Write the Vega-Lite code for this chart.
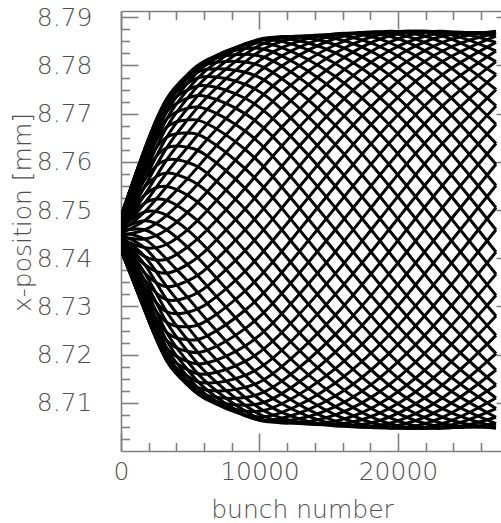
{
  "$schema": "https://vega.github.io/schema/vega-lite/v6.json",
  "width": 380,
  "height": 440,
  "autosize": "none",
  "padding": {"left": 121, "top": 11, "right": 0, "bottom": 72},
  "background": "white",
  "config": {
    "view": {"stroke": null},
    "axis": {
      "domainColor": "#808080", "domainWidth": 1.6,
      "tickColor": "#808080", "tickWidth": 1.6,
      "labelColor": "#505050", "titleColor": "#505050",
      "labelFont": "DejaVu Sans", "titleFont": "DejaVu Sans",
      "labelFontSize": 25, "titleFontSize": 25,
      "labelFontWeight": 200, "titleFontWeight": 200,
      "grid": false
    }
  },
  "datasets": {
    "frame": [{"bunch": 0, "pos": 8.75}],
    "curves": [
{"id":0,"bunch":0,"pos":8.7452},{"id":1,"bunch":0,"pos":8.7456},{"id":2,"bunch":0,"pos":8.746},{"id":3,"bunch":0,"pos":8.7464},{"id":4,"bunch":0,"pos":8.7467},{"id":5,"bunch":0,"pos":8.7471},{"id":6,"bunch":0,"pos":8.7474},{"id":7,"bunch":0,"pos":8.7477},{"id":8,"bunch":0,"pos":8.7479},{"id":9,"bunch":0,"pos":8.7482},{"id":10,"bunch":0,"pos":8.7484},{"id":11,"bunch":0,"pos":8.7485},{"id":12,"bunch":0,"pos":8.7486},{"id":13,"bunch":0,"pos":8.7487},{"id":14,"bunch":0,"pos":8.7487},{"id":15,"bunch":0,"pos":8.7487},{"id":16,"bunch":0,"pos":8.7486},{"id":17,"bunch":0,"pos":8.7485},{"id":18,"bunch":0,"pos":8.7484},{"id":19,"bunch":0,"pos":8.7482},{"id":20,"bunch":0,"pos":8.7479},{"id":21,"bunch":0,"pos":8.7477},{"id":22,"bunch":0,"pos":8.7474},{"id":23,"bunch":0,"pos":8.7471},{"id":24,"bunch":0,"pos":8.7467},{"id":25,"bunch":0,"pos":8.7464},{"id":26,"bunch":0,"pos":8.746},{"id":27,"bunch":0,"pos":8.7456},{"id":28,"bunch":0,"pos":8.7452},{"id":29,"bunch":0,"pos":8.7448},{"id":30,"bunch":0,"pos":8.7444},{"id":31,"bunch":0,"pos":8.744},{"id":32,"bunch":0,"pos":8.7437},{"id":33,"bunch":0,"pos":8.7433},{"id":34,"bunch":0,"pos":8.743},{"id":35,"bunch":0,"pos":8.7427},{"id":36,"bunch":0,"pos":8.7425},{"id":37,"bunch":0,"pos":8.7422},{"id":38,"bunch":0,"pos":8.742},{"id":39,"bunch":0,"pos":8.7419},{"id":40,"bunch":0,"pos":8.7418},{"id":41,"bunch":0,"pos":8.7417},{"id":42,"bunch":0,"pos":8.7417},{"id":43,"bunch":0,"pos":8.7417},{"id":44,"bunch":0,"pos":8.7418},{"id":45,"bunch":0,"pos":8.7419},{"id":46,"bunch":0,"pos":8.742},{"id":47,"bunch":0,"pos":8.7422},{"id":48,"bunch":0,"pos":8.7425},{"id":49,"bunch":0,"pos":8.7427},{"id":50,"bunch":0,"pos":8.743},{"id":51,"bunch":0,"pos":8.7433},{"id":52,"bunch":0,"pos":8.7437},{"id":53,"bunch":0,"pos":8.744},{"id":54,"bunch":0,"pos":8.7444},{"id":55,"bunch":0,"pos":8.7448},
{"id":0,"bunch":1700,"pos":8.7478},{"id":1,"bunch":1700,"pos":8.7496},{"id":2,"bunch":1700,"pos":8.7514},{"id":3,"bunch":1700,"pos":8.7531},{"id":4,"bunch":1700,"pos":8.7548},{"id":5,"bunch":1700,"pos":8.7563},{"id":6,"bunch":1700,"pos":8.7577},{"id":7,"bunch":1700,"pos":8.759},{"id":8,"bunch":1700,"pos":8.76},{"id":9,"bunch":1700,"pos":8.7609},{"id":10,"bunch":1700,"pos":8.7617},{"id":11,"bunch":1700,"pos":8.7622},{"id":12,"bunch":1700,"pos":8.7625},{"id":13,"bunch":1700,"pos":8.7626},{"id":14,"bunch":1700,"pos":8.7625},{"id":15,"bunch":1700,"pos":8.7622},{"id":16,"bunch":1700,"pos":8.7617},{"id":17,"bunch":1700,"pos":8.7609},{"id":18,"bunch":1700,"pos":8.76},{"id":19,"bunch":1700,"pos":8.759},{"id":20,"bunch":1700,"pos":8.7577},{"id":21,"bunch":1700,"pos":8.7563},{"id":22,"bunch":1700,"pos":8.7548},{"id":23,"bunch":1700,"pos":8.7531},{"id":24,"bunch":1700,"pos":8.7514},{"id":25,"bunch":1700,"pos":8.7496},{"id":26,"bunch":1700,"pos":8.7478},{"id":27,"bunch":1700,"pos":8.7459},{"id":28,"bunch":1700,"pos":8.744},{"id":29,"bunch":1700,"pos":8.7422},{"id":30,"bunch":1700,"pos":8.7404},{"id":31,"bunch":1700,"pos":8.7387},{"id":32,"bunch":1700,"pos":8.737},{"id":33,"bunch":1700,"pos":8.7355},{"id":34,"bunch":1700,"pos":8.7341},{"id":35,"bunch":1700,"pos":8.7328},{"id":36,"bunch":1700,"pos":8.7318},{"id":37,"bunch":1700,"pos":8.7309},{"id":38,"bunch":1700,"pos":8.7301},{"id":39,"bunch":1700,"pos":8.7296},{"id":40,"bunch":1700,"pos":8.7293},{"id":41,"bunch":1700,"pos":8.7292},{"id":42,"bunch":1700,"pos":8.7293},{"id":43,"bunch":1700,"pos":8.7296},{"id":44,"bunch":1700,"pos":8.7301},{"id":45,"bunch":1700,"pos":8.7309},{"id":46,"bunch":1700,"pos":8.7318},{"id":47,"bunch":1700,"pos":8.7328},{"id":48,"bunch":1700,"pos":8.7341},{"id":49,"bunch":1700,"pos":8.7355},{"id":50,"bunch":1700,"pos":8.737},{"id":51,"bunch":1700,"pos":8.7387},{"id":52,"bunch":1700,"pos":8.7404},{"id":53,"bunch":1700,"pos":8.7422},{"id":54,"bunch":1700,"pos":8.744},{"id":55,"bunch":1700,"pos":8.7459},
{"id":0,"bunch":3300,"pos":8.752},{"id":1,"bunch":3300,"pos":8.7549},{"id":2,"bunch":3300,"pos":8.7577},{"id":3,"bunch":3300,"pos":8.7604},{"id":4,"bunch":3300,"pos":8.7629},{"id":5,"bunch":3300,"pos":8.7651},{"id":6,"bunch":3300,"pos":8.7672},{"id":7,"bunch":3300,"pos":8.7689},{"id":8,"bunch":3300,"pos":8.7704},{"id":9,"bunch":3300,"pos":8.7716},{"id":10,"bunch":3300,"pos":8.7724},{"id":11,"bunch":3300,"pos":8.7729},{"id":12,"bunch":3300,"pos":8.7731},{"id":13,"bunch":3300,"pos":8.7729},{"id":14,"bunch":3300,"pos":8.7724},{"id":15,"bunch":3300,"pos":8.7716},{"id":16,"bunch":3300,"pos":8.7704},{"id":17,"bunch":3300,"pos":8.7689},{"id":18,"bunch":3300,"pos":8.7672},{"id":19,"bunch":3300,"pos":8.7651},{"id":20,"bunch":3300,"pos":8.7629},{"id":21,"bunch":3300,"pos":8.7604},{"id":22,"bunch":3300,"pos":8.7577},{"id":23,"bunch":3300,"pos":8.7549},{"id":24,"bunch":3300,"pos":8.752},{"id":25,"bunch":3300,"pos":8.7489},{"id":26,"bunch":3300,"pos":8.7459},{"id":27,"bunch":3300,"pos":8.7429},{"id":28,"bunch":3300,"pos":8.7398},{"id":29,"bunch":3300,"pos":8.7369},{"id":30,"bunch":3300,"pos":8.7341},{"id":31,"bunch":3300,"pos":8.7314},{"id":32,"bunch":3300,"pos":8.7289},{"id":33,"bunch":3300,"pos":8.7267},{"id":34,"bunch":3300,"pos":8.7246},{"id":35,"bunch":3300,"pos":8.7229},{"id":36,"bunch":3300,"pos":8.7214},{"id":37,"bunch":3300,"pos":8.7202},{"id":38,"bunch":3300,"pos":8.7194},{"id":39,"bunch":3300,"pos":8.7189},{"id":40,"bunch":3300,"pos":8.7187},{"id":41,"bunch":3300,"pos":8.7189},{"id":42,"bunch":3300,"pos":8.7194},{"id":43,"bunch":3300,"pos":8.7202},{"id":44,"bunch":3300,"pos":8.7214},{"id":45,"bunch":3300,"pos":8.7229},{"id":46,"bunch":3300,"pos":8.7246},{"id":47,"bunch":3300,"pos":8.7267},{"id":48,"bunch":3300,"pos":8.7289},{"id":49,"bunch":3300,"pos":8.7314},{"id":50,"bunch":3300,"pos":8.7341},{"id":51,"bunch":3300,"pos":8.7369},{"id":52,"bunch":3300,"pos":8.7398},{"id":53,"bunch":3300,"pos":8.7429},{"id":54,"bunch":3300,"pos":8.7459},{"id":55,"bunch":3300,"pos":8.7489},
{"id":0,"bunch":4800,"pos":8.7565},{"id":1,"bunch":4800,"pos":8.7599},{"id":2,"bunch":4800,"pos":8.763},{"id":3,"bunch":4800,"pos":8.766},{"id":4,"bunch":4800,"pos":8.7687},{"id":5,"bunch":4800,"pos":8.7711},{"id":6,"bunch":4800,"pos":8.7732},{"id":7,"bunch":4800,"pos":8.7749},{"id":8,"bunch":4800,"pos":8.7763},{"id":9,"bunch":4800,"pos":8.7773},{"id":10,"bunch":4800,"pos":8.7779},{"id":11,"bunch":4800,"pos":8.7781},{"id":12,"bunch":4800,"pos":8.7779},{"id":13,"bunch":4800,"pos":8.7773},{"id":14,"bunch":4800,"pos":8.7763},{"id":15,"bunch":4800,"pos":8.7749},{"id":16,"bunch":4800,"pos":8.7732},{"id":17,"bunch":4800,"pos":8.7711},{"id":18,"bunch":4800,"pos":8.7687},{"id":19,"bunch":4800,"pos":8.766},{"id":20,"bunch":4800,"pos":8.763},{"id":21,"bunch":4800,"pos":8.7599},{"id":22,"bunch":4800,"pos":8.7565},{"id":23,"bunch":4800,"pos":8.7531},{"id":24,"bunch":4800,"pos":8.7495},{"id":25,"bunch":4800,"pos":8.7459},{"id":26,"bunch":4800,"pos":8.7423},{"id":27,"bunch":4800,"pos":8.7387},{"id":28,"bunch":4800,"pos":8.7353},{"id":29,"bunch":4800,"pos":8.7319},{"id":30,"bunch":4800,"pos":8.7288},{"id":31,"bunch":4800,"pos":8.7258},{"id":32,"bunch":4800,"pos":8.7231},{"id":33,"bunch":4800,"pos":8.7207},{"id":34,"bunch":4800,"pos":8.7186},{"id":35,"bunch":4800,"pos":8.7169},{"id":36,"bunch":4800,"pos":8.7155},{"id":37,"bunch":4800,"pos":8.7145},{"id":38,"bunch":4800,"pos":8.7139},{"id":39,"bunch":4800,"pos":8.7137},{"id":40,"bunch":4800,"pos":8.7139},{"id":41,"bunch":4800,"pos":8.7145},{"id":42,"bunch":4800,"pos":8.7155},{"id":43,"bunch":4800,"pos":8.7169},{"id":44,"bunch":4800,"pos":8.7186},{"id":45,"bunch":4800,"pos":8.7207},{"id":46,"bunch":4800,"pos":8.7231},{"id":47,"bunch":4800,"pos":8.7258},{"id":48,"bunch":4800,"pos":8.7288},{"id":49,"bunch":4800,"pos":8.7319},{"id":50,"bunch":4800,"pos":8.7353},{"id":51,"bunch":4800,"pos":8.7387},{"id":52,"bunch":4800,"pos":8.7423},{"id":53,"bunch":4800,"pos":8.7459},{"id":54,"bunch":4800,"pos":8.7495},{"id":55,"bunch":4800,"pos":8.7531},
{"id":0,"bunch":6230,"pos":8.7612},{"id":1,"bunch":6230,"pos":8.7647},{"id":2,"bunch":6230,"pos":8.7679},{"id":3,"bunch":6230,"pos":8.7709},{"id":4,"bunch":6230,"pos":8.7735},{"id":5,"bunch":6230,"pos":8.7758},{"id":6,"bunch":6230,"pos":8.7777},{"id":7,"bunch":6230,"pos":8.7792},{"id":8,"bunch":6230,"pos":8.7803},{"id":9,"bunch":6230,"pos":8.781},{"id":10,"bunch":6230,"pos":8.7812},{"id":11,"bunch":6230,"pos":8.781},{"id":12,"bunch":6230,"pos":8.7803},{"id":13,"bunch":6230,"pos":8.7792},{"id":14,"bunch":6230,"pos":8.7777},{"id":15,"bunch":6230,"pos":8.7758},{"id":16,"bunch":6230,"pos":8.7735},{"id":17,"bunch":6230,"pos":8.7709},{"id":18,"bunch":6230,"pos":8.7679},{"id":19,"bunch":6230,"pos":8.7647},{"id":20,"bunch":6230,"pos":8.7612},{"id":21,"bunch":6230,"pos":8.7576},{"id":22,"bunch":6230,"pos":8.7538},{"id":23,"bunch":6230,"pos":8.7499},{"id":24,"bunch":6230,"pos":8.7459},{"id":25,"bunch":6230,"pos":8.7419},{"id":26,"bunch":6230,"pos":8.738},{"id":27,"bunch":6230,"pos":8.7342},{"id":28,"bunch":6230,"pos":8.7306},{"id":29,"bunch":6230,"pos":8.7271},{"id":30,"bunch":6230,"pos":8.7239},{"id":31,"bunch":6230,"pos":8.7209},{"id":32,"bunch":6230,"pos":8.7183},{"id":33,"bunch":6230,"pos":8.716},{"id":34,"bunch":6230,"pos":8.7141},{"id":35,"bunch":6230,"pos":8.7126},{"id":36,"bunch":6230,"pos":8.7115},{"id":37,"bunch":6230,"pos":8.7108},{"id":38,"bunch":6230,"pos":8.7106},{"id":39,"bunch":6230,"pos":8.7108},{"id":40,"bunch":6230,"pos":8.7115},{"id":41,"bunch":6230,"pos":8.7126},{"id":42,"bunch":6230,"pos":8.7141},{"id":43,"bunch":6230,"pos":8.716},{"id":44,"bunch":6230,"pos":8.7183},{"id":45,"bunch":6230,"pos":8.7209},{"id":46,"bunch":6230,"pos":8.7239},{"id":47,"bunch":6230,"pos":8.7271},{"id":48,"bunch":6230,"pos":8.7306},{"id":49,"bunch":6230,"pos":8.7342},{"id":50,"bunch":6230,"pos":8.738},{"id":51,"bunch":6230,"pos":8.7419},{"id":52,"bunch":6230,"pos":8.7459},{"id":53,"bunch":6230,"pos":8.7499},{"id":54,"bunch":6230,"pos":8.7538},{"id":55,"bunch":6230,"pos":8.7576},
{"id":0,"bunch":8960,"pos":8.77},{"id":1,"bunch":8960,"pos":8.7732},{"id":2,"bunch":8960,"pos":8.7761},{"id":3,"bunch":8960,"pos":8.7786},{"id":4,"bunch":8960,"pos":8.7807},{"id":5,"bunch":8960,"pos":8.7823},{"id":6,"bunch":8960,"pos":8.7835},{"id":7,"bunch":8960,"pos":8.7843},{"id":8,"bunch":8960,"pos":8.7845},{"id":9,"bunch":8960,"pos":8.7843},{"id":10,"bunch":8960,"pos":8.7835},{"id":11,"bunch":8960,"pos":8.7823},{"id":12,"bunch":8960,"pos":8.7807},{"id":13,"bunch":8960,"pos":8.7786},{"id":14,"bunch":8960,"pos":8.7761},{"id":15,"bunch":8960,"pos":8.7732},{"id":16,"bunch":8960,"pos":8.77},{"id":17,"bunch":8960,"pos":8.7664},{"id":18,"bunch":8960,"pos":8.7626},{"id":19,"bunch":8960,"pos":8.7586},{"id":20,"bunch":8960,"pos":8.7545},{"id":21,"bunch":8960,"pos":8.7502},{"id":22,"bunch":8960,"pos":8.7459},{"id":23,"bunch":8960,"pos":8.7416},{"id":24,"bunch":8960,"pos":8.7373},{"id":25,"bunch":8960,"pos":8.7332},{"id":26,"bunch":8960,"pos":8.7292},{"id":27,"bunch":8960,"pos":8.7254},{"id":28,"bunch":8960,"pos":8.7218},{"id":29,"bunch":8960,"pos":8.7186},{"id":30,"bunch":8960,"pos":8.7157},{"id":31,"bunch":8960,"pos":8.7132},{"id":32,"bunch":8960,"pos":8.7111},{"id":33,"bunch":8960,"pos":8.7095},{"id":34,"bunch":8960,"pos":8.7083},{"id":35,"bunch":8960,"pos":8.7075},{"id":36,"bunch":8960,"pos":8.7073},{"id":37,"bunch":8960,"pos":8.7075},{"id":38,"bunch":8960,"pos":8.7083},{"id":39,"bunch":8960,"pos":8.7095},{"id":40,"bunch":8960,"pos":8.7111},{"id":41,"bunch":8960,"pos":8.7132},{"id":42,"bunch":8960,"pos":8.7157},{"id":43,"bunch":8960,"pos":8.7186},{"id":44,"bunch":8960,"pos":8.7218},{"id":45,"bunch":8960,"pos":8.7254},{"id":46,"bunch":8960,"pos":8.7292},{"id":47,"bunch":8960,"pos":8.7332},{"id":48,"bunch":8960,"pos":8.7373},{"id":49,"bunch":8960,"pos":8.7416},{"id":50,"bunch":8960,"pos":8.7459},{"id":51,"bunch":8960,"pos":8.7502},{"id":52,"bunch":8960,"pos":8.7545},{"id":53,"bunch":8960,"pos":8.7586},{"id":54,"bunch":8960,"pos":8.7626},{"id":55,"bunch":8960,"pos":8.7664},
{"id":0,"bunch":11610,"pos":8.7773},{"id":1,"bunch":11610,"pos":8.7799},{"id":2,"bunch":11610,"pos":8.782},{"id":3,"bunch":11610,"pos":8.7837},{"id":4,"bunch":11610,"pos":8.785},{"id":5,"bunch":11610,"pos":8.7857},{"id":6,"bunch":11610,"pos":8.786},{"id":7,"bunch":11610,"pos":8.7857},{"id":8,"bunch":11610,"pos":8.785},{"id":9,"bunch":11610,"pos":8.7837},{"id":10,"bunch":11610,"pos":8.782},{"id":11,"bunch":11610,"pos":8.7799},{"id":12,"bunch":11610,"pos":8.7773},{"id":13,"bunch":11610,"pos":8.7743},{"id":14,"bunch":11610,"pos":8.7709},{"id":15,"bunch":11610,"pos":8.7672},{"id":16,"bunch":11610,"pos":8.7633},{"id":17,"bunch":11610,"pos":8.7591},{"id":18,"bunch":11610,"pos":8.7548},{"id":19,"bunch":11610,"pos":8.7504},{"id":20,"bunch":11610,"pos":8.7459},{"id":21,"bunch":11610,"pos":8.7414},{"id":22,"bunch":11610,"pos":8.737},{"id":23,"bunch":11610,"pos":8.7327},{"id":24,"bunch":11610,"pos":8.7285},{"id":25,"bunch":11610,"pos":8.7246},{"id":26,"bunch":11610,"pos":8.7209},{"id":27,"bunch":11610,"pos":8.7175},{"id":28,"bunch":11610,"pos":8.7145},{"id":29,"bunch":11610,"pos":8.7119},{"id":30,"bunch":11610,"pos":8.7098},{"id":31,"bunch":11610,"pos":8.708},{"id":32,"bunch":11610,"pos":8.7068},{"id":33,"bunch":11610,"pos":8.7061},{"id":34,"bunch":11610,"pos":8.7058},{"id":35,"bunch":11610,"pos":8.7061},{"id":36,"bunch":11610,"pos":8.7068},{"id":37,"bunch":11610,"pos":8.708},{"id":38,"bunch":11610,"pos":8.7098},{"id":39,"bunch":11610,"pos":8.7119},{"id":40,"bunch":11610,"pos":8.7145},{"id":41,"bunch":11610,"pos":8.7175},{"id":42,"bunch":11610,"pos":8.7209},{"id":43,"bunch":11610,"pos":8.7246},{"id":44,"bunch":11610,"pos":8.7285},{"id":45,"bunch":11610,"pos":8.7327},{"id":46,"bunch":11610,"pos":8.737},{"id":47,"bunch":11610,"pos":8.7414},{"id":48,"bunch":11610,"pos":8.7459},{"id":49,"bunch":11610,"pos":8.7504},{"id":50,"bunch":11610,"pos":8.7548},{"id":51,"bunch":11610,"pos":8.7591},{"id":52,"bunch":11610,"pos":8.7633},{"id":53,"bunch":11610,"pos":8.7672},{"id":54,"bunch":11610,"pos":8.7709},{"id":55,"bunch":11610,"pos":8.7743},
{"id":0,"bunch":15477,"pos":8.7843},{"id":1,"bunch":15477,"pos":8.7856},{"id":2,"bunch":15477,"pos":8.7863},{"id":3,"bunch":15477,"pos":8.7866},{"id":4,"bunch":15477,"pos":8.7863},{"id":5,"bunch":15477,"pos":8.7856},{"id":6,"bunch":15477,"pos":8.7843},{"id":7,"bunch":15477,"pos":8.7826},{"id":8,"bunch":15477,"pos":8.7804},{"id":9,"bunch":15477,"pos":8.7777},{"id":10,"bunch":15477,"pos":8.7747},{"id":11,"bunch":15477,"pos":8.7713},{"id":12,"bunch":15477,"pos":8.7676},{"id":13,"bunch":15477,"pos":8.7636},{"id":14,"bunch":15477,"pos":8.7593},{"id":15,"bunch":15477,"pos":8.755},{"id":16,"bunch":15477,"pos":8.7505},{"id":17,"bunch":15477,"pos":8.7459},{"id":18,"bunch":15477,"pos":8.7413},{"id":19,"bunch":15477,"pos":8.7368},{"id":20,"bunch":15477,"pos":8.7325},{"id":21,"bunch":15477,"pos":8.7282},{"id":22,"bunch":15477,"pos":8.7242},{"id":23,"bunch":15477,"pos":8.7205},{"id":24,"bunch":15477,"pos":8.7171},{"id":25,"bunch":15477,"pos":8.7141},{"id":26,"bunch":15477,"pos":8.7114},{"id":27,"bunch":15477,"pos":8.7092},{"id":28,"bunch":15477,"pos":8.7075},{"id":29,"bunch":15477,"pos":8.7062},{"id":30,"bunch":15477,"pos":8.7055},{"id":31,"bunch":15477,"pos":8.7052},{"id":32,"bunch":15477,"pos":8.7055},{"id":33,"bunch":15477,"pos":8.7062},{"id":34,"bunch":15477,"pos":8.7075},{"id":35,"bunch":15477,"pos":8.7092},{"id":36,"bunch":15477,"pos":8.7114},{"id":37,"bunch":15477,"pos":8.7141},{"id":38,"bunch":15477,"pos":8.7171},{"id":39,"bunch":15477,"pos":8.7205},{"id":40,"bunch":15477,"pos":8.7242},{"id":41,"bunch":15477,"pos":8.7282},{"id":42,"bunch":15477,"pos":8.7325},{"id":43,"bunch":15477,"pos":8.7368},{"id":44,"bunch":15477,"pos":8.7413},{"id":45,"bunch":15477,"pos":8.7459},{"id":46,"bunch":15477,"pos":8.7505},{"id":47,"bunch":15477,"pos":8.755},{"id":48,"bunch":15477,"pos":8.7593},{"id":49,"bunch":15477,"pos":8.7636},{"id":50,"bunch":15477,"pos":8.7676},{"id":51,"bunch":15477,"pos":8.7713},{"id":52,"bunch":15477,"pos":8.7747},{"id":53,"bunch":15477,"pos":8.7777},{"id":54,"bunch":15477,"pos":8.7804},{"id":55,"bunch":15477,"pos":8.7826},
{"id":0,"bunch":19344,"pos":8.7871},{"id":1,"bunch":19344,"pos":8.7868},{"id":2,"bunch":19344,"pos":8.7861},{"id":3,"bunch":19344,"pos":8.7848},{"id":4,"bunch":19344,"pos":8.783},{"id":5,"bunch":19344,"pos":8.7808},{"id":6,"bunch":19344,"pos":8.7781},{"id":7,"bunch":19344,"pos":8.775},{"id":8,"bunch":19344,"pos":8.7716},{"id":9,"bunch":19344,"pos":8.7678},{"id":10,"bunch":19344,"pos":8.7638},{"id":11,"bunch":19344,"pos":8.7595},{"id":12,"bunch":19344,"pos":8.7551},{"id":13,"bunch":19344,"pos":8.7505},{"id":14,"bunch":19344,"pos":8.7459},{"id":15,"bunch":19344,"pos":8.7413},{"id":16,"bunch":19344,"pos":8.7367},{"id":17,"bunch":19344,"pos":8.7323},{"id":18,"bunch":19344,"pos":8.728},{"id":19,"bunch":19344,"pos":8.724},{"id":20,"bunch":19344,"pos":8.7202},{"id":21,"bunch":19344,"pos":8.7168},{"id":22,"bunch":19344,"pos":8.7137},{"id":23,"bunch":19344,"pos":8.711},{"id":24,"bunch":19344,"pos":8.7088},{"id":25,"bunch":19344,"pos":8.707},{"id":26,"bunch":19344,"pos":8.7057},{"id":27,"bunch":19344,"pos":8.705},{"id":28,"bunch":19344,"pos":8.7047},{"id":29,"bunch":19344,"pos":8.705},{"id":30,"bunch":19344,"pos":8.7057},{"id":31,"bunch":19344,"pos":8.707},{"id":32,"bunch":19344,"pos":8.7088},{"id":33,"bunch":19344,"pos":8.711},{"id":34,"bunch":19344,"pos":8.7137},{"id":35,"bunch":19344,"pos":8.7168},{"id":36,"bunch":19344,"pos":8.7202},{"id":37,"bunch":19344,"pos":8.724},{"id":38,"bunch":19344,"pos":8.728},{"id":39,"bunch":19344,"pos":8.7323},{"id":40,"bunch":19344,"pos":8.7367},{"id":41,"bunch":19344,"pos":8.7413},{"id":42,"bunch":19344,"pos":8.7459},{"id":43,"bunch":19344,"pos":8.7505},{"id":44,"bunch":19344,"pos":8.7551},{"id":45,"bunch":19344,"pos":8.7595},{"id":46,"bunch":19344,"pos":8.7638},{"id":47,"bunch":19344,"pos":8.7678},{"id":48,"bunch":19344,"pos":8.7716},{"id":49,"bunch":19344,"pos":8.775},{"id":50,"bunch":19344,"pos":8.7781},{"id":51,"bunch":19344,"pos":8.7808},{"id":52,"bunch":19344,"pos":8.783},{"id":53,"bunch":19344,"pos":8.7848},{"id":54,"bunch":19344,"pos":8.7861},{"id":55,"bunch":19344,"pos":8.7868},
{"id":0,"bunch":23211,"pos":8.7848},{"id":1,"bunch":23211,"pos":8.783},{"id":2,"bunch":23211,"pos":8.7808},{"id":3,"bunch":23211,"pos":8.7781},{"id":4,"bunch":23211,"pos":8.775},{"id":5,"bunch":23211,"pos":8.7716},{"id":6,"bunch":23211,"pos":8.7678},{"id":7,"bunch":23211,"pos":8.7638},{"id":8,"bunch":23211,"pos":8.7595},{"id":9,"bunch":23211,"pos":8.7551},{"id":10,"bunch":23211,"pos":8.7505},{"id":11,"bunch":23211,"pos":8.7459},{"id":12,"bunch":23211,"pos":8.7413},{"id":13,"bunch":23211,"pos":8.7367},{"id":14,"bunch":23211,"pos":8.7323},{"id":15,"bunch":23211,"pos":8.728},{"id":16,"bunch":23211,"pos":8.724},{"id":17,"bunch":23211,"pos":8.7202},{"id":18,"bunch":23211,"pos":8.7168},{"id":19,"bunch":23211,"pos":8.7137},{"id":20,"bunch":23211,"pos":8.711},{"id":21,"bunch":23211,"pos":8.7088},{"id":22,"bunch":23211,"pos":8.707},{"id":23,"bunch":23211,"pos":8.7057},{"id":24,"bunch":23211,"pos":8.705},{"id":25,"bunch":23211,"pos":8.7047},{"id":26,"bunch":23211,"pos":8.705},{"id":27,"bunch":23211,"pos":8.7057},{"id":28,"bunch":23211,"pos":8.707},{"id":29,"bunch":23211,"pos":8.7088},{"id":30,"bunch":23211,"pos":8.711},{"id":31,"bunch":23211,"pos":8.7137},{"id":32,"bunch":23211,"pos":8.7168},{"id":33,"bunch":23211,"pos":8.7202},{"id":34,"bunch":23211,"pos":8.724},{"id":35,"bunch":23211,"pos":8.728},{"id":36,"bunch":23211,"pos":8.7323},{"id":37,"bunch":23211,"pos":8.7367},{"id":38,"bunch":23211,"pos":8.7413},{"id":39,"bunch":23211,"pos":8.7459},{"id":40,"bunch":23211,"pos":8.7505},{"id":41,"bunch":23211,"pos":8.7551},{"id":42,"bunch":23211,"pos":8.7595},{"id":43,"bunch":23211,"pos":8.7638},{"id":44,"bunch":23211,"pos":8.7678},{"id":45,"bunch":23211,"pos":8.7716},{"id":46,"bunch":23211,"pos":8.775},{"id":47,"bunch":23211,"pos":8.7781},{"id":48,"bunch":23211,"pos":8.7808},{"id":49,"bunch":23211,"pos":8.783},{"id":50,"bunch":23211,"pos":8.7848},{"id":51,"bunch":23211,"pos":8.7861},{"id":52,"bunch":23211,"pos":8.7868},{"id":53,"bunch":23211,"pos":8.7871},{"id":54,"bunch":23211,"pos":8.7868},{"id":55,"bunch":23211,"pos":8.7861},
{"id":0,"bunch":27078,"pos":8.7781},{"id":1,"bunch":27078,"pos":8.775},{"id":2,"bunch":27078,"pos":8.7716},{"id":3,"bunch":27078,"pos":8.7678},{"id":4,"bunch":27078,"pos":8.7638},{"id":5,"bunch":27078,"pos":8.7595},{"id":6,"bunch":27078,"pos":8.7551},{"id":7,"bunch":27078,"pos":8.7505},{"id":8,"bunch":27078,"pos":8.7459},{"id":9,"bunch":27078,"pos":8.7413},{"id":10,"bunch":27078,"pos":8.7367},{"id":11,"bunch":27078,"pos":8.7323},{"id":12,"bunch":27078,"pos":8.728},{"id":13,"bunch":27078,"pos":8.724},{"id":14,"bunch":27078,"pos":8.7202},{"id":15,"bunch":27078,"pos":8.7168},{"id":16,"bunch":27078,"pos":8.7137},{"id":17,"bunch":27078,"pos":8.711},{"id":18,"bunch":27078,"pos":8.7088},{"id":19,"bunch":27078,"pos":8.707},{"id":20,"bunch":27078,"pos":8.7057},{"id":21,"bunch":27078,"pos":8.705},{"id":22,"bunch":27078,"pos":8.7047},{"id":23,"bunch":27078,"pos":8.705},{"id":24,"bunch":27078,"pos":8.7057},{"id":25,"bunch":27078,"pos":8.707},{"id":26,"bunch":27078,"pos":8.7088},{"id":27,"bunch":27078,"pos":8.711},{"id":28,"bunch":27078,"pos":8.7137},{"id":29,"bunch":27078,"pos":8.7168},{"id":30,"bunch":27078,"pos":8.7202},{"id":31,"bunch":27078,"pos":8.724},{"id":32,"bunch":27078,"pos":8.728},{"id":33,"bunch":27078,"pos":8.7323},{"id":34,"bunch":27078,"pos":8.7367},{"id":35,"bunch":27078,"pos":8.7413},{"id":36,"bunch":27078,"pos":8.7459},{"id":37,"bunch":27078,"pos":8.7505},{"id":38,"bunch":27078,"pos":8.7551},{"id":39,"bunch":27078,"pos":8.7595},{"id":40,"bunch":27078,"pos":8.7638},{"id":41,"bunch":27078,"pos":8.7678},{"id":42,"bunch":27078,"pos":8.7716},{"id":43,"bunch":27078,"pos":8.775},{"id":44,"bunch":27078,"pos":8.7781},{"id":45,"bunch":27078,"pos":8.7808},{"id":46,"bunch":27078,"pos":8.783},{"id":47,"bunch":27078,"pos":8.7848},{"id":48,"bunch":27078,"pos":8.7861},{"id":49,"bunch":27078,"pos":8.7868},{"id":50,"bunch":27078,"pos":8.7871},{"id":51,"bunch":27078,"pos":8.7868},{"id":52,"bunch":27078,"pos":8.7861},{"id":53,"bunch":27078,"pos":8.7848},{"id":54,"bunch":27078,"pos":8.783},{"id":55,"bunch":27078,"pos":8.7808}
    ]
  },
  "layer": [
    {
      "data": {"name": "curves"},
      "mark": {"type": "line", "color": "black", "strokeWidth": 3, "interpolate": "natural", "clip": true},
      "encoding": {
        "x": {
          "field": "bunch", "type": "quantitative",
          "scale": {"domain": [0, 27440], "nice": false, "zero": false},
          "axis": {
            "orient": "bottom",
            "values": [0, 2000, 4000, 6000, 8000, 10000, 12000, 14000, 16000, 18000, 20000, 22000, 24000, 26000],
            "format": "d",
            "labelExpr": "datum.value % 10000 === 0 ? datum.label : ''",
            "tickSize": {"condition": {"test": "datum.value % 10000 === 0", "value": -18}, "value": -8.5},
            "labelPadding": 26,
            "labelFlush": false,
            "title": "bunch number",
            "titleX": 181, "titleY": 66,
            "titleAlign": "center", "titleBaseline": "alphabetic"
          }
        },
        "y": {
          "field": "pos", "type": "quantitative",
          "scale": {"domain": [8.7, 8.7913], "nice": false, "zero": false},
          "axis": {
            "orient": "left",
            "values": [8.7025, 8.705, 8.7075, 8.71, 8.7125, 8.715, 8.7175, 8.72, 8.7225, 8.725, 8.7275, 8.73, 8.7325, 8.735, 8.7375, 8.74, 8.7425, 8.745, 8.7475, 8.75, 8.7525, 8.755, 8.7575, 8.76, 8.7625, 8.765, 8.7675, 8.77, 8.7725, 8.775, 8.7775, 8.78, 8.7825, 8.785, 8.7875, 8.79],
            "labelExpr": "abs(datum.value * 100 - round(datum.value * 100)) < 0.01 ? format(datum.value, '.2f') : ''",
            "tickSize": {"condition": {"test": "abs(datum.value * 100 - round(datum.value * 100)) < 0.01", "value": -17}, "value": -8.5},
            "labelPadding": 46,
            "labelFlush": false,
            "title": "x-position [mm]",
            "titleX": -91, "titleY": 201,
            "titleAngle": 270,
            "titleAlign": "center", "titleBaseline": "alphabetic"
          }
        },
        "detail": {"field": "id", "type": "nominal"}
      }
    },
    {
      "data": {"name": "frame"},
      "mark": {"type": "point", "opacity": 0},
      "encoding": {
        "x": {
          "field": "bunch", "type": "quantitative",
          "scale": {"domain": [0, 27440], "nice": false, "zero": false},
          "axis": {
            "orient": "top",
            "values": [0, 2000, 4000, 6000, 8000, 10000, 12000, 14000, 16000, 18000, 20000, 22000, 24000, 26000],
            "labels": false,
            "tickSize": {"condition": {"test": "datum.value % 10000 === 0", "value": -18}, "value": -8.5},
            "title": null
          }
        },
        "y": {
          "field": "pos", "type": "quantitative",
          "scale": {"domain": [8.7, 8.7913], "nice": false, "zero": false},
          "axis": {
            "orient": "right",
            "values": [8.71, 8.72, 8.73, 8.74, 8.75, 8.76, 8.77, 8.78, 8.79],
            "labels": false,
            "domain": false,
            "tickSize": -5,
            "title": null
          }
        }
      }
    }
  ],
  "resolve": {"axis": {"x": "independent", "y": "independent"}}
}
